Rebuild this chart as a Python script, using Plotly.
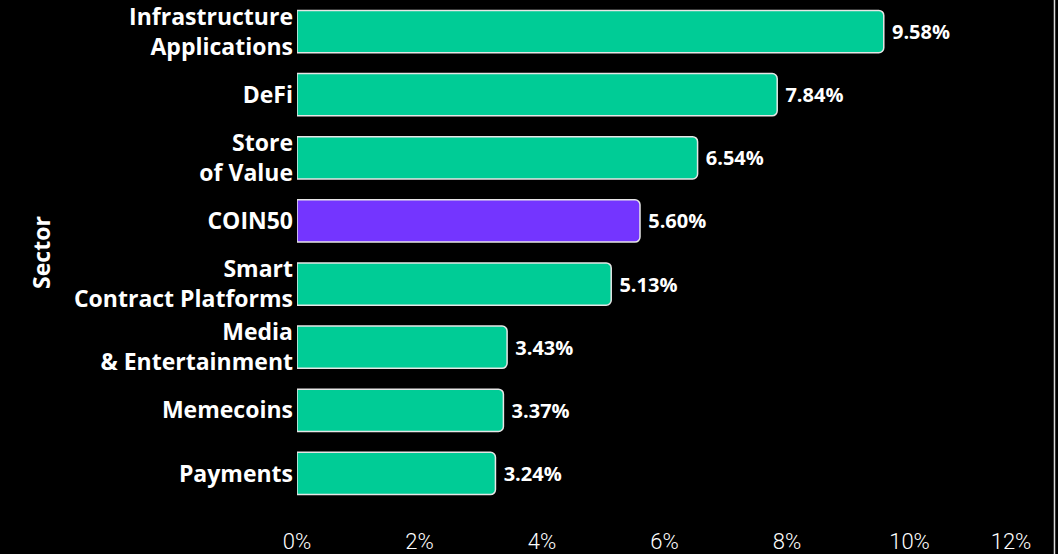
import plotly.graph_objects as go

categories = ["Infrastructure<br>Applications", "DeFi", "Store<br>of Value", "COIN50",
              "Smart<br>Contract Platforms", "Media<br>& Entertainment", "Memecoins", "Payments"]
values = [9.58, 7.84, 6.54, 5.60, 5.13, 3.43, 3.37, 3.24]
bar_colors = ["#00CC96", "#00CC96", "#00CC96", "#7435FF", "#00CC96", "#00CC96", "#00CC96", "#00CC96"]
tick_vals = [0, 2, 4, 6, 8, 10]
tick_text = ["0%", "2%", "4%", "6%", "8%", "10%"]
end_tick_vals = [12]
end_tick_text = ["12%"]

fig = go.Figure(go.Bar(
    x=values, y=categories, orientation="h",
    marker=dict(color=bar_colors, line=dict(color="#E6E6E6", width=1.5), cornerradius=5),
    text=[f"\u00a0{v:.2f}%" for v in values], textposition="outside",
    textfont=dict(family="Open Sans", size=20, color="white", weight="bold"),
    cliponaxis=False,
))
# empty helper trace so that the second (overlay) x axis is drawn
fig.add_trace(go.Scatter(x=[], y=[], xaxis="x2", yaxis="y", mode="markers",
                         hoverinfo="skip", showlegend=False))

tickfont = dict(family="Roboto", size=22, color="white", weight=300)
fig.update_layout(
    width=1058, height=554,
    paper_bgcolor="black", plot_bgcolor="black",
    margin=dict(l=297, r=26, t=0, b=49),
    bargap=0.33,
    showlegend=False,
    font=dict(family="Open Sans", color="white"),
    shapes=[dict(type="line", xref="paper", yref="paper", x0=1.0306, x1=1.0306, y0=-0.2, y1=1.2,
                 line=dict(color="#DDDDDD", width=1.5))],
    xaxis=dict(range=[0, 12], tickvals=tick_vals, ticktext=tick_text,
               showgrid=False, zeroline=False, showline=False,
               tickfont=tickfont, automargin=False, ticklabelstandoff=21),
    xaxis2=dict(overlaying="x", anchor="y", side="bottom", range=[0, 12],
                tickvals=end_tick_vals, ticktext=end_tick_text, tickfont=tickfont,
                showgrid=False, zeroline=False, showline=False, automargin=False,
                ticklabelstandoff=21, ticklabelshift=-21, ticklabeloverflow="allow"),
)
fig.update_yaxes(autorange="reversed", showgrid=False, zeroline=False,
                 tickfont=dict(family="Open Sans", size=23, color="white", weight="bold"),
                 ticklabelstandoff=3,
                 title=dict(text="Sector", font=dict(family="Open Sans", size=23, color="white", weight="bold"),
                            standoff=16))
fig.write_html("out.html")
